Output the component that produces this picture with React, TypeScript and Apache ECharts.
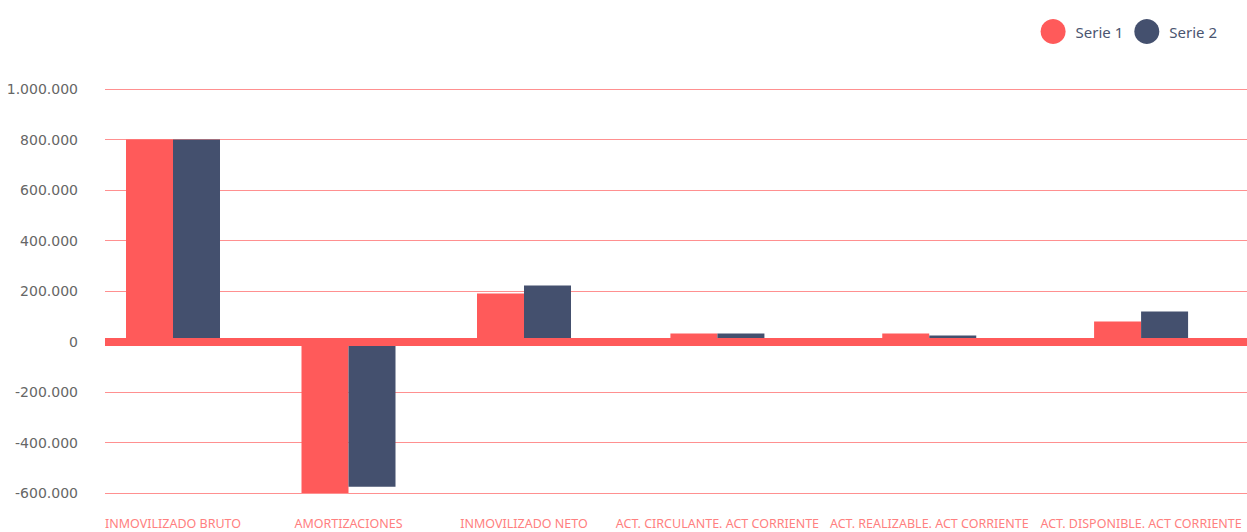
import React, { useEffect, useRef } from "react";
import * as echarts from "echarts";

const categories = [
  "INMOVILIZADO BRUTO",
  "AMORTIZACIONES",
  "INMOVILIZADO NETO",
  "ACT. CIRCULANTE. ACT CORRIENTE",
  "ACT. REALIZABLE. ACT CORRIENTE",
  "ACT. DISPONIBLE. ACT CORRIENTE",
];
const serie1 = [800000, -600000, 190000, 32000, 32000, 79000];
const serie2 = [800000, -575000, 222000, 32000, 24000, 119000];
const seriesNames = ["Serie 1", "Serie 2"];
const yMin = -600000;
const yMax = 1000000;
const yInterval = 200000;

const RED = "#ff5a5a";
const NAVY = "#44506e";

const fmt = (v: number) => {
  const s = Math.abs(v).toString().replace(/\B(?=(\d{3})+(?!\d))/g, ".");
  return (v < 0 ? "-" : "") + s;
};

// The reference spaces the first three categories more tightly than the last three
const split = 3;
const groups = [
  { cats: categories.slice(0, split), s1: serie1.slice(0, split), s2: serie2.slice(0, split) },
  { cats: categories.slice(split), s1: serie1.slice(split), s2: serie2.slice(split) },
];

export default function App() {
  const ref = useRef<HTMLDivElement>(null);
  useEffect(() => {
    if (!ref.current) return;
    const chart = echarts.init(ref.current, undefined, { renderer: "svg" });
    const catAxis = (gridIndex: number, data: string[]) => ({
      gridIndex,
      type: "category",
      data,
      position: "bottom",
      axisLine: { show: false, onZero: false },
      axisTick: { show: false },
      axisLabel: {
        interval: 0,
        color: "#ff8080",
        fontSize: 12.5,
        fontFamily: "Noto Sans",
        margin: 24,
      },
    });
    const hiddenY = (gridIndex: number) => ({
      gridIndex,
      type: "value",
      min: yMin,
      max: yMax,
      interval: yInterval,
      show: false,
      splitLine: { show: false },
    });
    const series: any[] = [];
    groups.forEach((g, i) => {
      series.push({
        name: seriesNames[0],
        type: "bar",
        xAxisIndex: i + 1,
        yAxisIndex: i + 1,
        data: g.s1,
        barWidth: 47,
        barGap: "0%",
        itemStyle: { color: RED },
      });
      series.push({
        name: seriesNames[1],
        type: "bar",
        xAxisIndex: i + 1,
        yAxisIndex: i + 1,
        data: g.s2,
        barWidth: 47,
        barGap: "0%",
        itemStyle: { color: NAVY },
      });
    });
    chart.setOption({
      animation: false,
      textStyle: { fontFamily: "Noto Sans" },
      legend: {
        data: seriesNames,
        right: 25,
        top: 14,
        icon: "circle",
        itemWidth: 25,
        itemHeight: 25,
        itemGap: 11,
        textStyle: {
          color: "#4a5570",
          fontSize: 15,
          fontFamily: "Noto Sans",
          padding: [0, 0, 0, 5],
        },
      },
      grid: [
        { left: 105, right: 0, top: 89, bottom: 39 },
        { left: 85.25, width: 526.5, top: 89, bottom: 39 },
        { left: 611.5, width: 641, top: 89, bottom: 39 },
      ],
      xAxis: [
        {
          gridIndex: 0,
          type: "category",
          data: categories,
          z: 10,
          axisLine: { show: true, onZero: true, lineStyle: { color: RED, width: 8, cap: "butt" } },
          axisTick: { show: false },
          axisLabel: { show: false },
          splitLine: { show: false },
        },
        catAxis(1, groups[0].cats),
        catAxis(2, groups[1].cats),
      ],
      yAxis: [
        {
          gridIndex: 0,
          type: "value",
          min: yMin,
          max: yMax,
          interval: yInterval,
          axisLine: { show: false },
          axisTick: { show: false },
          axisLabel: {
            color: "#666666",
            fontSize: 14,
            fontFamily: "DejaVu Sans",
            margin: 27,
            formatter: (v: number) => fmt(v),
          },
          splitLine: { lineStyle: { color: "#ff9090", width: 1 } },
        },
        hiddenY(1),
        hiddenY(2),
      ],
      series,
    });
    return () => chart.dispose();
  }, []);
  return (
    <div
      ref={ref}
      style={{ position: "fixed", left: 0, top: 0, width: 1247, height: 532, background: "#fff" }}
    />
  );
}
